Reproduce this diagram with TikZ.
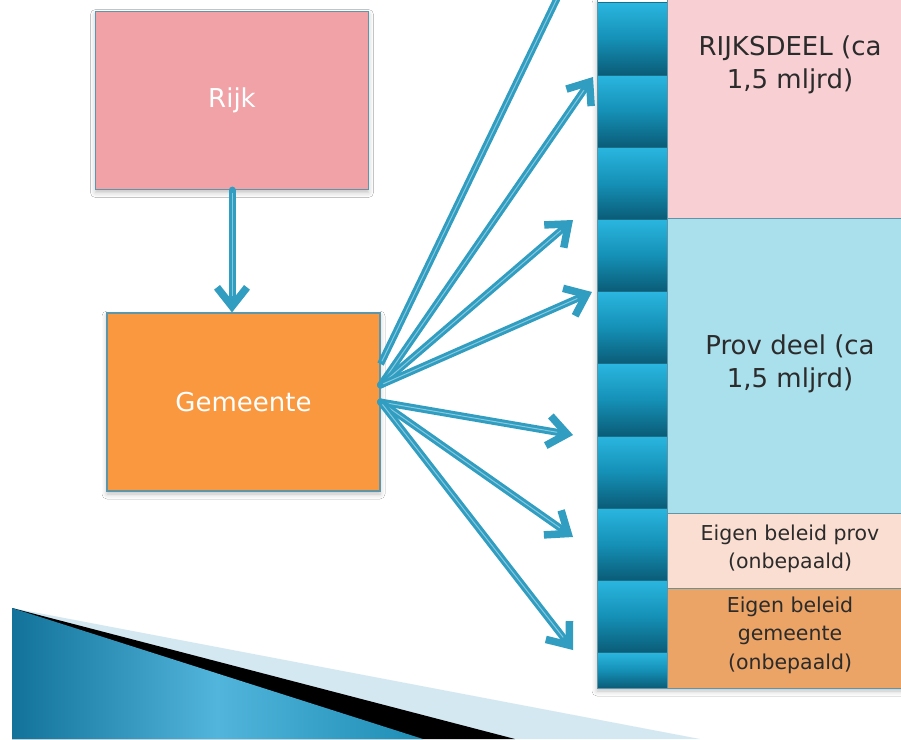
\documentclass[tikz,border=0pt]{standalone}
\usepackage{fontspec}
\setmainfont{DejaVu Sans}
\usetikzlibrary{arrows.meta,shadows.blur,calc}

\definecolor{rijkfill}{HTML}{F0A2A7}
\definecolor{gemfill}{HTML}{F9983F}
\definecolor{boxline}{HTML}{5E95A8}
\definecolor{flowc}{HTML}{319DC0}
\definecolor{flowcore}{HTML}{86C8DE}
\definecolor{segtop}{HTML}{2AB6E0}
\definecolor{segmid}{HTML}{1590B6}
\definecolor{segbot}{HTML}{0A5C77}
\definecolor{segline}{HTML}{1B6E88}
\definecolor{rijkdeel}{HTML}{F8D0D4}
\definecolor{provdeel}{HTML}{AADFEC}
\definecolor{eigenprov}{HTML}{FBDED2}
\definecolor{eigengem}{HTML}{EBA366}
\definecolor{paneltext}{HTML}{2B2B2B}
\definecolor{wedgelight}{HTML}{D4E8F1}
\definecolor{wedgeA}{HTML}{12729A}
\definecolor{wedgeB}{HTML}{52B5DB}
\definecolor{wedgeC}{HTML}{1D8DB5}

\begin{document}
\begin{tikzpicture}[x=1pt,y=-1pt,
  softshadow/.style={blur shadow={shadow xshift=0pt, shadow yshift=-3pt, shadow blur radius=5pt, shadow opacity=25}},
  box/.style={draw=boxline, line width=1.2pt, minimum width=273pt, minimum height=178pt,
    inner sep=0pt, font=\fontsize{26}{30}\selectfont, softshadow},
  flow/.style={draw=flowc, line width=7pt, line cap=round,
    -{Straight Barb[length=19pt 0 0, width=30pt 0 0, line width=7.5pt 0]}},
  core/.style={draw=flowcore, line width=1pt, shorten >=16pt, shorten <=3pt},
  seg/.style={draw=segline, line width=0.8pt, top color=segtop, bottom color=segbot, middle color=segmid},
  panel/.style={draw=boxline, line width=0.8pt},
  bigtext/.style={text=paneltext, align=center, font=\fontsize{26}{33}\selectfont},
  smalltext/.style={text=paneltext, align=center, font=\fontsize{20.5}{28.5}\selectfont},
]
\useasboundingbox (0,0) rectangle (901,739);
\clip (0,0) rectangle (901,739);
\fill[white] (0,0) rectangle (901,739);

% decorative wedge, bottom left
\fill[wedgelight] (12,608) -- (700,739) -- (12,739) -- cycle;
\fill[black] (12,608) -- (515,739) -- (12,739) -- cycle;
\shade[left color=wedgeA, right color=wedgeC, middle color=wedgeB] (12,608) -- (423,739) -- (12,739) -- cycle;

% the two source boxes
\node[box, fill=rijkfill, text=white] (rijk) at (232,100.5) {Rijk};
\node[box, fill=gemfill, text=white] (gem) at (243.5,402) {Gemeente};

% budget column: shadow, segmented bar, and its panels
\fill[white, softshadow] (597,0) rectangle (905,688);
\foreach \i in {0,...,9} {
  \pgfmathsetmacro{\ya}{2.8+72.2*\i}
  \pgfmathsetmacro{\yb}{min(2.8+72.2*(\i+1),688)}
  \path[seg] (597,\ya) rectangle (667,\yb);
}
\path[panel, fill=rijkdeel] (667,-2) rectangle (905,218);
\path[panel, fill=provdeel] (667,218) rectangle (905,513);
\path[panel, fill=eigenprov] (667,513) rectangle (905,588);
\path[panel, fill=eigengem] (667,588) rectangle (905,688);
\draw[boxline, line width=0.8pt] (597,-2) rectangle (905,688);

\node[bigtext] (rdtxt) at (790,65) {RIJKSDEEL (ca\\1,5 mljrd)};
\node[bigtext] (pdtxt) at (790,364) {Prov deel (ca\\1,5 mljrd)};
\node[smalltext] (eptxt) at (790,549) {Eigen beleid prov\\(onbepaald)};
\node[smalltext] (egtxt) at (790,635) {Eigen beleid\\gemeente\\(onbepaald)};

% arrow from Rijk straight down to Gemeente
\coordinate (gemtop) at (rijk.south |- gem.north);
\draw[flow] (rijk.south) -- (gemtop);
\draw[core] (rijk.south) -- (gemtop);

% fan of arrows from Gemeente to the column
\coordinate (o1) at ($(gem.east)+(0,-38)$);
\coordinate (o2) at ($(gem.east)+(0,-17)$);
\coordinate (o3) at (gem.east);
\coordinate (t1) at (566,-20);
\coordinate (t2) at (593,77);
\coordinate (t3) at (573,220);
\coordinate (t4) at (592,292);
\coordinate (t5) at (573,435);
\coordinate (t6) at (573,537);
\coordinate (t7) at (573,650);
\draw[flowc, line width=7pt] (o1) -- (t1);
\draw[flowcore, line width=1pt, shorten <=3pt] (o1) -- (t1);
\foreach \o/\t in {o2/t2, o2/t3, o2/t4, o3/t5, o3/t6, o3/t7} {
  \draw[flow] (\o) -- (\t);
  \draw[core] (\o) -- (\t);
}
\end{tikzpicture}
\end{document}
